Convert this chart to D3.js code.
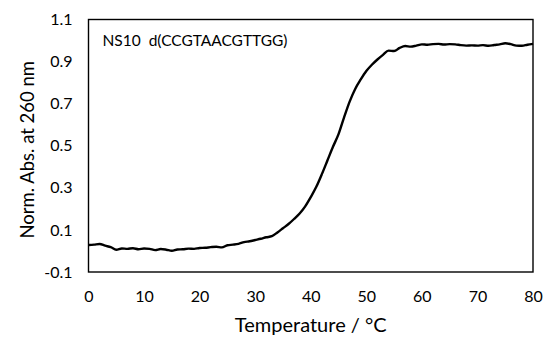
<!DOCTYPE html>
<html>
<head>
<meta charset="utf-8">
<script src="https://cdn.jsdelivr.net/npm/d3@7"></script>
<style>
  html, body { margin: 0; padding: 0; background: #fff; }
  svg text { font-family: Lato, "Open Sans", sans-serif; fill: #000; }
</style>
</head>
<body>
<svg id="chart" width="550" height="341"></svg>
<script>
// Melting curve of NS10 d(CCGTAACGTTGG): normalised absorbance at 260 nm vs temperature
const temperature = d3.range(0, 81, 1);
const absorbance = [
  0.028, 0.030, 0.033, 0.025, 0.018, 0.006, 0.012, 0.010, 0.013, 0.008,
  0.012, 0.010, 0.004, 0.009, 0.006, 0.001, 0.007, 0.008, 0.011, 0.010,
  0.014, 0.015, 0.018, 0.020, 0.017, 0.027, 0.030, 0.034, 0.042, 0.046,
  0.052, 0.058, 0.065, 0.070, 0.088, 0.108, 0.128, 0.152, 0.178, 0.212,
  0.256, 0.305, 0.365, 0.430, 0.495, 0.555, 0.635, 0.710, 0.770, 0.815,
  0.855, 0.885, 0.910, 0.932, 0.952, 0.950, 0.965, 0.974, 0.971, 0.976,
  0.982, 0.980, 0.983, 0.984, 0.981, 0.983, 0.982, 0.978, 0.976, 0.977,
  0.976, 0.978, 0.975, 0.979, 0.982, 0.987, 0.983, 0.976, 0.975, 0.980,
  0.984
];
const xTicks = [0, 10, 20, 30, 40, 50, 60, 70, 80];
const yTicks = [-0.1, 0.1, 0.3, 0.5, 0.7, 0.9, 1.1];
const sampleLabel = "NS10  d(CCGTAACGTTGG)";
const xTitle = "Temperature / °C";
const yTitle = "Norm. Abs. at 260 nm";

const margin = { left: 88.5, top: 19.5, right: 17, bottom: 69 };
const W = 550, H = 341;
const svg = d3.select("#chart");

const x = d3.scaleLinear().domain([0, 80]).range([margin.left, W - margin.right]);
const y = d3.scaleLinear().domain([-0.1, 1.1]).range([H - margin.bottom, margin.top]);

// x axis labels (no tick marks)
const xAxis = d3.axisBottom(x).tickValues(xTicks).tickSize(0).tickPadding(19)
  .tickFormat(d3.format("d"));
const gx = svg.append("g").attr("transform", `translate(0,${y(-0.1)})`).call(xAxis);
gx.select(".domain").remove();
gx.selectAll("text").style("font-size", "16px").style("font-family", "Lato, sans-serif").attr("fill", "#000");

// y axis labels
const yAxis = d3.axisLeft(y).tickValues(yTicks).tickSize(0).tickPadding(16)
  .tickFormat(d => d3.format(".1f")(d).replace("−", "-"));
const gy = svg.append("g").attr("transform", `translate(${x(0)},0)`).call(yAxis);
gy.select(".domain").remove();
gy.selectAll("text").style("font-size", "16px").style("font-family", "Lato, sans-serif").attr("fill", "#000");

// plot frame
svg.append("rect")
  .attr("x", x(0)).attr("y", y(1.1))
  .attr("width", x(80) - x(0)).attr("height", y(-0.1) - y(1.1))
  .attr("fill", "none").attr("stroke", "#000").attr("stroke-width", 1.4);

// melting curve
const line = d3.line()
  .x((d, i) => x(temperature[i]))
  .y(d => y(d))
  .curve(d3.curveMonotoneX);
svg.append("path")
  .datum(absorbance)
  .attr("d", line)
  .attr("fill", "none")
  .attr("stroke", "#000")
  .attr("stroke-width", 2.4)
  .attr("stroke-linejoin", "round");

// sample annotation
svg.append("text")
  .attr("x", x(0) + 14).attr("y", y(1.0) + 5.5)
  .style("font-size", "15.5px")
  .style("white-space", "pre")
  .attr("xml:space", "preserve")
  .text(sampleLabel);

// axis titles
svg.append("text")
  .attr("x", (x(0) + x(80)) / 2).attr("y", 332)
  .attr("text-anchor", "middle")
  .style("font-size", "20px")
  .text(xTitle);

svg.append("text")
  .attr("transform", `translate(34,${(y(-0.1) + y(1.1)) / 2 + 4}) rotate(-90)`)
  .attr("text-anchor", "middle")
  .style("font-size", "18.5px")
  .text(yTitle);
</script>
</body>
</html>
